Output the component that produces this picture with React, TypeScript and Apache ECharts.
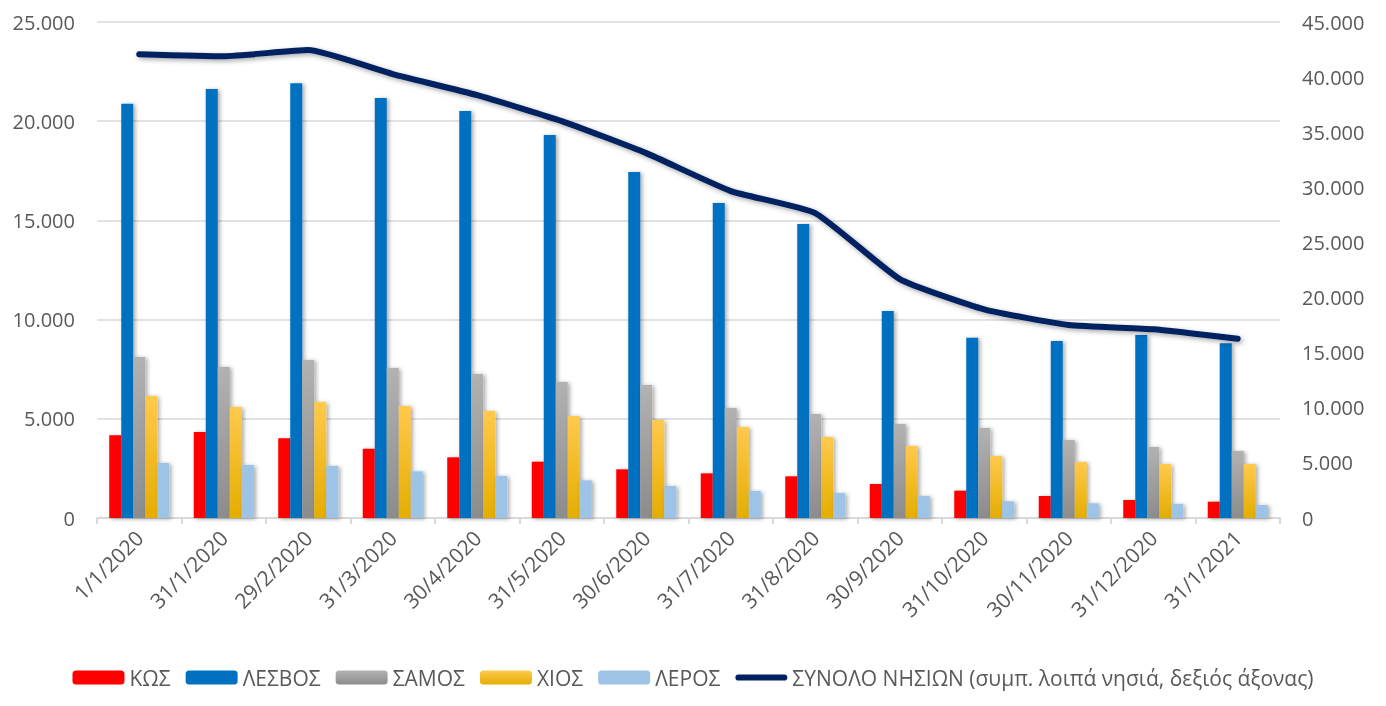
import React, { useEffect, useRef } from "react";
import * as echarts from "echarts";

const categories = [
  "1/1/2020", "31/1/2020", "29/2/2020", "31/3/2020", "30/4/2020", "31/5/2020", "30/6/2020",
  "31/7/2020", "31/8/2020", "30/9/2020", "31/10/2020", "30/11/2020", "31/12/2020", "31/1/2021",
];
const kos = [4170, 4335, 4015, 3494, 3058, 2838, 2453, 2251, 2100, 1714, 1378, 1109, 907, 823];
const lesvos = [20880, 21620, 21910, 21170, 20513, 19303, 17438, 15876, 14818, 10433, 9089, 8921, 9223, 8803];
const samos = [8115, 7610, 7963, 7560, 7258, 6854, 6703, 5544, 5242, 4738, 4536, 3931, 3578, 3377];
const chios = [6150, 5595, 5846, 5645, 5393, 5141, 4939, 4586, 4082, 3629, 3125, 2822, 2722, 2722];
const leros = [2770, 2670, 2620, 2352, 2117, 1898, 1613, 1361, 1260, 1109, 840, 739, 706, 660];
const total = [42085, 41900, 42450, 40270, 38366, 36008, 33105, 29660, 27664, 21677, 18930, 17505, 17115, 16262];

const FONT = "'Open Sans', sans-serif";
const TXT = "#595959";
const LINE_NAME = "ΣΥΝΟΛΟ ΝΗΣΙΩΝ (συμπ. λοιπά νησιά, δεξιός άξονας)";

const fmt = (v: number) => String(v).replace(/\B(?=(\d{3})+(?!\d))/g, ".");

const grad = (top: string, bottom: string) =>
  new echarts.graphic.LinearGradient(0, 0, 0, 1, [
    { offset: 0, color: top },
    { offset: 1, color: bottom },
  ]);

export default function App() {
  const ref = useRef<HTMLDivElement>(null);
  useEffect(() => {
    const chart = echarts.init(ref.current!, undefined, { renderer: "svg" });
    const shadow = { shadowBlur: 4, shadowColor: "rgba(0,0,0,0.35)", shadowOffsetX: 2, shadowOffsetY: 1 };
    const bar = (name: string, data: number[], color: any) => ({
      name,
      type: "bar",
      data,
      barGap: "0%",
      barCategoryGap: "29%",
      itemStyle: { color, ...shadow },
    });
    chart.setOption({
      animation: false,
      textStyle: { fontFamily: FONT },
      grid: { left: 97, right: 106, top: 22, bottom: 188, containLabel: false },
      legend: {
        top: 662,
        left: "center",
        itemWidth: 52,
        itemHeight: 14,
        itemGap: 15,
        symbolKeepAspect: true,
        textStyle: { color: TXT, fontSize: 21, fontFamily: FONT },
        data: [
          "ΚΩΣ",
          "ΛΕΣΒΟΣ",
          "ΣΑΜΟΣ",
          "ΧΙΟΣ",
          "ΛΕΡΟΣ",
          {
            name: LINE_NAME,
            icon: "path://M3.5,0 H55.5 A3.5,3.5 0 0 1 55.5,7 H3.5 A3.5,3.5 0 0 1 3.5,0 Z",
            itemStyle: { color: "#002060" },
          },
        ],
      },
      xAxis: {
        type: "category",
        data: categories,
        boundaryGap: true,
        axisLine: { lineStyle: { color: "#d9d9d9", width: 2 } },
        axisTick: { show: true, length: 6, lineStyle: { color: "#d9d9d9", width: 2 } },
        axisLabel: { rotate: 45, color: TXT, fontSize: 21, margin: 16, interval: 0, fontFamily: FONT },
      },
      yAxis: [
        {
          type: "value",
          min: 0,
          max: 25000,
          interval: 5000,
          axisLine: { show: false },
          axisTick: { show: false },
          splitLine: { lineStyle: { color: "#d9d9d9", width: 1.5 } },
          axisLabel: { color: TXT, fontSize: 20, margin: 22, formatter: fmt, fontFamily: FONT },
        },
        {
          type: "value",
          min: 0,
          max: 45000,
          interval: 5000,
          axisLine: { show: false },
          axisTick: { show: false },
          splitLine: { show: false },
          axisLabel: { color: TXT, fontSize: 20, margin: 22, formatter: fmt, fontFamily: FONT },
        },
      ],
      series: [
        bar("ΚΩΣ", kos, "#ff0000"),
        bar("ΛΕΣΒΟΣ", lesvos, "#0070c0"),
        bar("ΣΑΜΟΣ", samos, grad("#b2b2b2", "#8c8c8c")),
        bar("ΧΙΟΣ", chios, grad("#ffc94d", "#e5ad00")),
        bar("ΛΕΡΟΣ", leros, "#9dc3e6"),
        {
          name: LINE_NAME,
          type: "line",
          yAxisIndex: 1,
          data: total,
          smooth: 0.15,
          symbol: "none",
          lineStyle: {
            color: "#002060",
            width: 6,
            cap: "round",
            join: "round",
            shadowBlur: 5,
            shadowColor: "rgba(0,0,0,0.35)",
            shadowOffsetX: 2,
            shadowOffsetY: 2,
          },
          itemStyle: { color: "#002060" },
        },
      ],
    });
    return () => chart.dispose();
  }, []);
  return (
    <div
      ref={ref}
      style={{ position: "fixed", left: 0, top: 0, width: 1386, height: 706 }}
    />
  );
}
